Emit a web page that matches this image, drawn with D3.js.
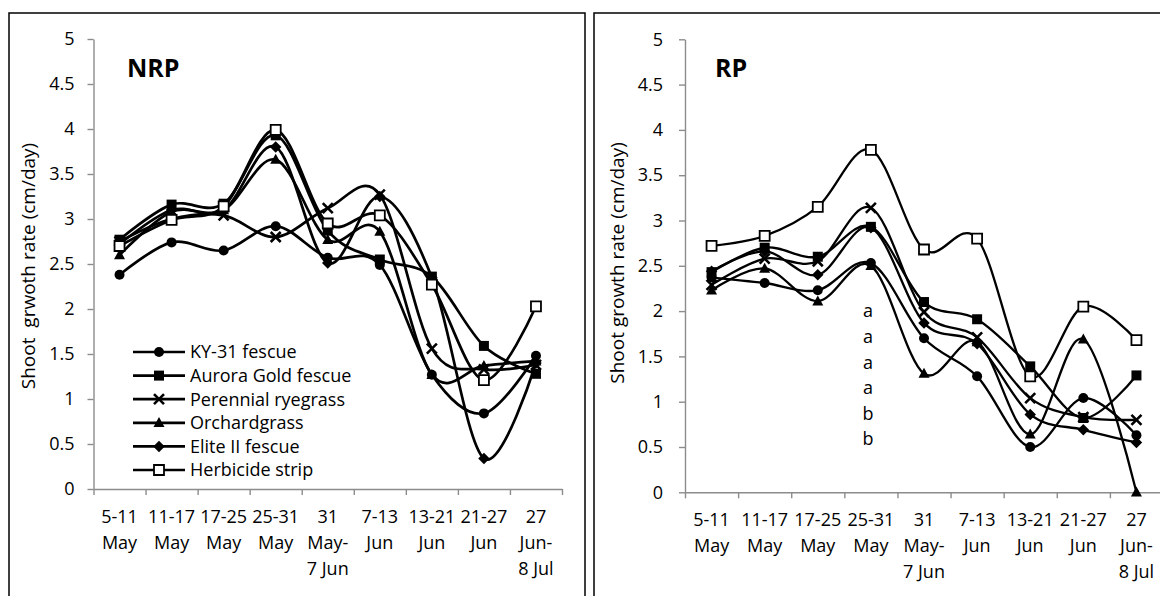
<!DOCTYPE html>
<html>
<head>
<meta charset="utf-8">
<script src="https://cdn.jsdelivr.net/npm/d3@7"></script>
<style>
  body { margin: 0; background: #fff; }
  svg text { font-family: "Open Sans", sans-serif; fill: #000; }
</style>
</head>
<body>
<svg id="chart" width="1160" height="596"></svg>
<script>
// categories (multi-line tick labels)
var categories = [
  ["5-11", "May"], ["11-17", "May"], ["17-25", "May"], ["25-31", "May"],
  ["31", "May-", "7 Jun"], ["7-13", "Jun"], ["13-21", "Jun"], ["21-27", "Jun"],
  ["27", "Jun-", "8 Jul"]
];
var seriesNames = ["KY-31 fescue", "Aurora Gold fescue", "Perennial ryegrass",
                   "Orchardgrass", "Elite II fescue", "Herbicide strip"];
var markerTypes = ["circle", "square", "x", "triangle", "diamond", "opensquare"];
var yTicks = [0, 0.5, 1, 1.5, 2, 2.5, 3, 3.5, 4, 4.5, 5];

// NRP values (cm/day)
var nrpKY31     = [2.38, 2.74, 2.65, 2.92, 2.57, 2.49, 1.27, 0.84, 1.48];
var nrpAurora   = [2.77, 3.16, 3.17, 3.93, 2.87, 2.55, 2.36, 1.59, 1.28];
var nrpRyegrass = [2.75, 3.00, 3.04, 2.80, 3.12, 3.27, 1.56, 1.33, 1.38];
var nrpOrchard  = [2.60, 3.08, 3.10, 3.66, 2.77, 2.86, 1.27, 1.37, 1.42];
var nrpElite    = [2.72, 3.10, 3.10, 3.80, 2.51, 3.25, 2.35, 0.34, 1.40];
var nrpStrip    = [2.70, 2.99, 3.14, 3.99, 2.95, 3.04, 2.27, 1.21, 2.03];

// RP values (cm/day)
var rpKY31     = [2.37, 2.31, 2.23, 2.53, 1.70, 1.28, 0.50, 1.04, 0.63];
var rpAurora   = [2.43, 2.70, 2.60, 2.93, 2.10, 1.91, 1.39, 0.82, 1.29];
var rpRyegrass = [2.29, 2.58, 2.55, 3.14, 1.99, 1.71, 1.04, 0.83, 0.80];
var rpOrchard  = [2.23, 2.47, 2.11, 2.50, 1.31, 1.66, 0.64, 1.69, 0.00];
var rpElite    = [2.44, 2.66, 2.40, 2.92, 1.87, 1.64, 0.86, 0.69, 0.55];
var rpStrip    = [2.72, 2.83, 3.15, 3.78, 2.68, 2.80, 1.28, 2.05, 1.68];

// significance letters for 25-31 May (RP)
var rpLetters = ["a", "a", "a", "a", "b", "b"];

var svg = d3.select("#chart");

// panel frames
svg.append("rect").attr("x", 9).attr("y", 13).attr("width", 576).attr("height", 600)
  .attr("fill", "none").attr("stroke", "#000").attr("stroke-width", 1.5);
svg.append("rect").attr("x", 594).attr("y", 13).attr("width", 580).attr("height", 600)
  .attr("fill", "none").attr("stroke", "#000").attr("stroke-width", 1.5);

// marker paths centred at 0,0
function markerPath(type, s) {
  var h = s / 2;
  if (type == "circle") return d3.symbol().type(d3.symbolCircle).size(Math.PI * h * h)();
  if (type == "square" || type == "opensquare") return "M" + -h + "," + -h + "H" + h + "V" + h + "H" + -h + "Z";
  if (type == "triangle") return "M0," + (-h * 1.15) + "L" + (h * 1.1) + "," + (h * 0.85) + "L" + (-h * 1.1) + "," + (h * 0.85) + "Z";
  if (type == "diamond") return "M0," + (-h * 1.15) + "L" + (h * 1.15) + ",0L0," + (h * 1.15) + "L" + (-h * 1.15) + ",0Z";
  if (type == "x") return "M" + -h + "," + -h + "L" + h + "," + h + "M" + h + "," + -h + "L" + -h + "," + h;
}

function drawMarker(g, type, x, y, s) {
  var p = g.append("path").attr("d", markerPath(type, s)).attr("transform", "translate(" + x + "," + y + ")");
  if (type == "opensquare") p.attr("fill", "#fff").attr("stroke", "#000").attr("stroke-width", 1.8);
  else if (type == "x") p.attr("fill", "none").attr("stroke", "#000").attr("stroke-width", 2.6);
  else p.attr("fill", "#000").attr("stroke", "none");
}

function drawPanel(p) {
  var g = svg.append("g");
  var x = d3.scaleBand().domain(d3.range(categories.length)).range([p.x0, p.x1]);
  var xEdge = d3.scaleLinear().domain([0, categories.length]).range([p.x0, p.x1]);
  var y = d3.scaleLinear().domain([0, 5]).range([p.yZero, p.yTop]);

  // y axis
  var ya = g.append("g").attr("transform", "translate(" + p.x0 + ",0)")
    .call(d3.axisLeft(y).tickValues(yTicks).tickFormat(function(d) { return d; })
      .tickSize(6).tickSizeOuter(0).tickPadding(p.tickPad));
  ya.selectAll("text").style("font-size", "18px").style("font-family", "Open Sans");
  ya.selectAll("line, path").attr("stroke", "#8c8c8c").attr("stroke-width", 1.4);

  // x axis (ticks at category edges)
  var xa = g.append("g").attr("transform", "translate(0," + p.yZero + ")")
    .call(d3.axisBottom(xEdge).tickValues(d3.range(categories.length + 1))
      .tickFormat("").tickSize(6).tickSizeOuter(0));
  xa.selectAll("line, path").attr("stroke", "#8c8c8c").attr("stroke-width", 1.4);

  // category labels
  var lab = g.append("g").selectAll("text").data(categories).join("text")
    .attr("text-anchor", "middle").style("font-size", "18px");
  lab.each(function(c, i) {
    d3.select(this).selectAll("tspan").data(c).join("tspan")
      .attr("x", x(i) + x.bandwidth() / 2)
      .attr("y", function(t, j) { return p.yZero + 34 + j * 26; })
      .text(function(t) { return t; });
  });

  // y title
  g.append("text").attr("transform", "translate(" + p.titleX + "," + p.titleY + ") rotate(-90)")
    .attr("text-anchor", "middle").attr("dy", "0.35em").style("font-size", "19px")
    .style("white-space", "pre").text(p.yTitle);

  // panel label
  g.append("text").attr("x", p.labelX).attr("y", 77).style("font-size", "25px")
    .style("font-weight", "bold").text(p.name);

  var line = d3.line().curve(d3.curveCardinal.tension(0))
    .x(function(d, i) { return x(i) + x.bandwidth() / 2; })
    .y(function(d) { return y(d); });

  p.series.forEach(function(vals, k) {
    g.append("path").attr("d", line(vals)).attr("fill", "none")
      .attr("stroke", "#000").attr("stroke-width", p.lineW).attr("stroke-linejoin", "round");
    vals.forEach(function(v, i) {
      drawMarker(g, markerTypes[k], x(i) + x.bandwidth() / 2, y(v), 10);
    });
  });
  return g;
}

drawPanel({
  name: "NRP", labelX: 127, x0: 93.5, x1: 562, yZero: 489, yTop: 39, tickPad: 13,
  titleX: 28, titleY: 266, yTitle: "Shoot  grwoth rate (cm/day)", lineW: 2.7,
  series: [nrpKY31, nrpAurora, nrpRyegrass, nrpOrchard, nrpElite, nrpStrip]
});

drawPanel({
  name: "RP", labelX: 715, x0: 685, x1: 1163, yZero: 492.3, yTop: 39.3, tickPad: 16,
  titleX: 617, titleY: 263, yTitle: "Shoot growth rate (cm/day)", lineW: 2.3,
  series: [rpKY31, rpAurora, rpRyegrass, rpOrchard, rpElite, rpStrip]
});

// legend (NRP panel)
var leg = svg.append("g");
seriesNames.forEach(function(name, k) {
  var ly = 352 + k * 23.6;
  leg.append("line").attr("x1", 133).attr("x2", 185).attr("y1", ly).attr("y2", ly)
    .attr("stroke", "#000").attr("stroke-width", 2.7);
  drawMarker(leg, markerTypes[k], 159, ly, 10);
  leg.append("text").attr("x", 190).attr("y", ly).attr("dy", "0.35em")
    .style("font-size", "18px").text(name);
});

// letters in RP panel
svg.append("g").selectAll("text").data(rpLetters).join("text")
  .attr("x", 868).attr("y", function(d, i) { return 311 + i * 25.6; })
  .attr("dy", "0.35em").attr("text-anchor", "middle").style("font-size", "18px")
  .text(function(d) { return d; });
</script>
</body>
</html>
